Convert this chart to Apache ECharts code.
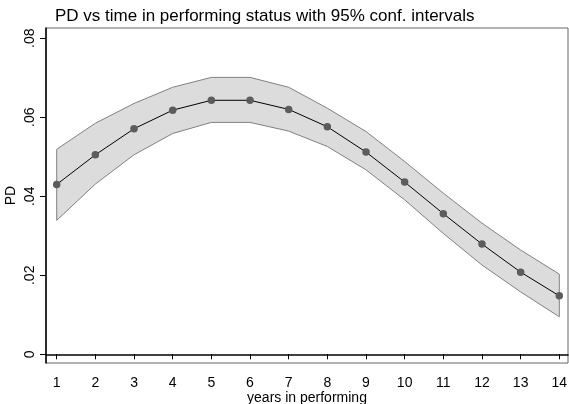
<!DOCTYPE html>
<html>
<head>
<meta charset="utf-8">
<script src="https://cdn.jsdelivr.net/npm/echarts@6/dist/echarts.min.js"></script>
<style>
  html, body { margin: 0; padding: 0; background: #fff; }
  #chart { width: 569px; height: 404px; }
</style>
</head>
<body>
<div id="chart"></div>
<script>
// data
const years = [1, 2, 3, 4, 5, 6, 7, 8, 9, 10, 11, 12, 13, 14];
const pd = [0.0430, 0.0505, 0.0571, 0.0618, 0.0643, 0.0643, 0.0620, 0.0576, 0.0512, 0.0436, 0.0356, 0.0279, 0.0208, 0.0148];
const upper = [0.0519, 0.0585, 0.0635, 0.0676, 0.0701, 0.0701, 0.0676, 0.0623, 0.0564, 0.0488, 0.0408, 0.0332, 0.0264, 0.0203];
const lower = [0.0339, 0.0431, 0.0505, 0.0559, 0.0587, 0.0587, 0.0565, 0.0526, 0.0467, 0.0391, 0.0306, 0.0226, 0.0158, 0.0095];
const yTicks = [0, 0.02, 0.04, 0.06, 0.08];

const chart = echarts.init(document.getElementById('chart'));
const font = 'Liberation Sans, Arial, sans-serif';

chart.setOption({
    animation: false,
    title: {
        text: 'PD vs time in performing status with 95% conf. intervals',
        left: 50, top: 3,
        textStyle: { fontFamily: font, fontSize: 17, fontWeight: 'normal', color: '#000' }
    },
    grid: {
        left: 46, right: 1, top: 28, bottom: 41,
        containLabel: false, outerBoundsMode: 'none',
        show: true, borderColor: '#666', borderWidth: 1
    },
    xAxis: {
        type: 'value', min: 0.723, max: 14.225,
        name: 'years in performing', nameLocation: 'middle', nameGap: 28, nameMoveOverlap: false,
        nameTextStyle: { fontFamily: font, fontSize: 14, color: '#000' },
        axisLine: { show: true, lineStyle: { color: '#000', width: 1.5 } },
        axisTick: { show: true, length: 5, lineStyle: { color: '#000' }, customValues: years },
        axisLabel: { fontFamily: font, fontSize: 14, color: '#000', margin: 13, customValues: years },
        splitLine: { show: false }
    },
    yAxis: {
        type: 'value', min: -0.0022, max: 0.0826,
        name: 'PD', nameLocation: 'middle', nameGap: 28, nameMoveOverlap: false,
        nameTextStyle: { fontFamily: font, fontSize: 14, color: '#000' },
        axisLine: { show: true, lineStyle: { color: '#000', width: 1.5 } },
        axisTick: { show: true, length: 6, lineStyle: { color: '#000' }, customValues: yTicks },
        axisLabel: {
            fontFamily: font, fontSize: 14, color: '#000', margin: 9, rotate: 90,
            customValues: yTicks,
            formatter: v => v === 0 ? '0' : v.toFixed(2).replace(/^0/, '')
        },
        splitLine: { show: false }
    },
    series: [
        {
            type: 'custom',
            renderItem: (params, api) => {
                if (params.dataIndex !== 0) return;
                const pts = [];
                years.forEach((x, i) => pts.push(api.coord([x, upper[i]])));
                for (let i = years.length - 1; i >= 0; i--) pts.push(api.coord([years[i], lower[i]]));
                return {
                    type: 'polygon',
                    shape: { points: pts },
                    style: { fill: '#dcdcdc', stroke: '#808080', lineWidth: 1 }
                };
            },
            data: [0],
            silent: true,
            z: 1
        },
        {
            type: 'line',
            data: years.map((x, i) => [x, pd[i]]),
            symbol: 'circle', symbolSize: 7.5,
            lineStyle: { color: '#000', width: 1 },
            itemStyle: { color: '#5c5c5c' },
            z: 3
        }
    ]
});
</script>
</body>
</html>
